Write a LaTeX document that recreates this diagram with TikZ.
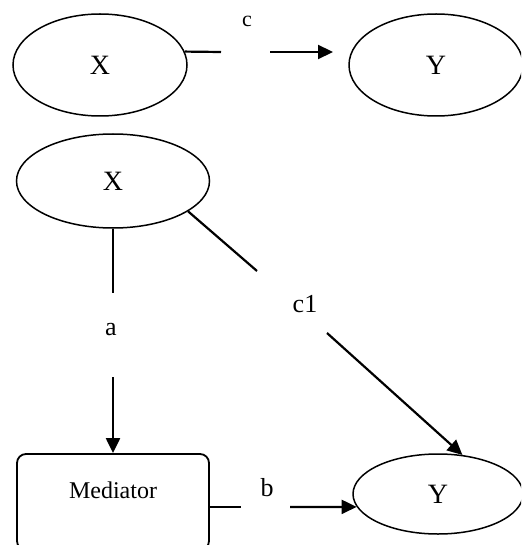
\documentclass[tikz,border=0pt]{standalone}
\usepackage{fontspec}
\setmainfont{Liberation Serif}
\usetikzlibrary{shapes.geometric, arrows.meta}

\begin{document}
\begin{tikzpicture}[x=1pt, y=-1pt,
        var/.style={draw, ellipse, line width=1.5pt, inner sep=0pt, font=\fontsize{28}{31}\selectfont},
        link/.style={line width=2.2pt},
        arr/.style={link, -{Triangle[length=15pt, width=14pt]}},
        coef/.style={inner sep=0pt, font=\fontsize{26}{29}\selectfont}]
        \useasboundingbox (0,0) rectangle (521,545);
        \clip (0,0) rectangle (521,545);

        % 总效应 (total effect)
        \node[var, minimum width=174pt, minimum height=102pt] (X1) at (100,65) {X};
        \node[var, minimum width=174pt, minimum height=102pt] (Y1) at (436,65) {Y};
        \node[coef, font=\fontsize{22}{25}\selectfont] (lc) at (247,21) {c};
        \coordinate (c_in) at (221,52);
        \coordinate (c_out) at (270,52);
        \coordinate (c_tip) at (333,52);
        \draw[link] (X1.9) -- (c_in);
        \draw[arr] (c_out) -- (c_tip);

        % 中介模型 (mediation model)
        \node[var, minimum width=193pt, minimum height=94pt] (X2) at (113,181) {X};
        \node[var, minimum width=170pt, minimum height=80pt] (Y2) at (438,494) {Y};
        \node[draw, rounded corners=9pt, line width=1.8pt, minimum width=192pt,
              inner xsep=0pt, inner ysep=24pt, text height=20pt, text depth=28pt,
              font=\fontsize{24}{27}\selectfont] (M) at (113,502) {Mediator};

        % 路径 a (X -> Mediator)
        \node[coef] (la) at (111,330) {a};
        \coordinate (a_in) at (113,293);
        \coordinate (a_out) at (113,377);
        \draw[link] (X2.south) -- (a_in);
        \draw[arr] (a_out) -- (M.north);

        % 直接效应 c1 (X -> Y)
        \node[coef] (lc1) at (305,304) {c1};
        \coordinate (c1_in) at (257,271);
        \coordinate (c1_out) at (327,333);
        \draw[link] (X2.-22) -- (c1_in);
        \draw[arr] (c1_out) -- (Y2.58);

        % 路径 b (Mediator -> Y)
        \node[coef] (lb) at (267,488) {b};
        \coordinate (b_in) at (241,507);
        \coordinate (b_out) at (290,507);
        \draw[link] (M.east |- b_in) -- (b_in);
        \draw[arr] (b_out) -- (Y2.189);
    \end{tikzpicture}
\end{document}
